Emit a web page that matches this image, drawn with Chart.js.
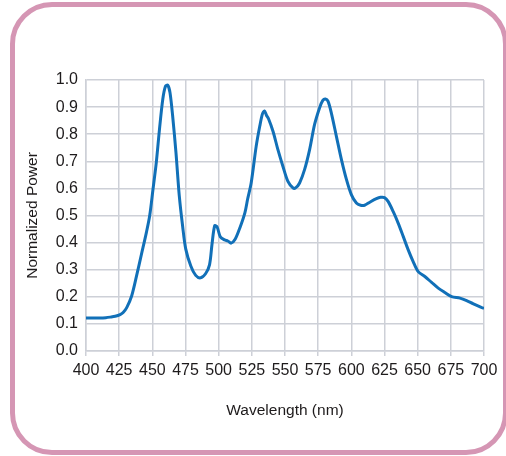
<!DOCTYPE html>
<html>
<head>
<meta charset="utf-8">
<script src="https://cdn.jsdelivr.net/npm/chart.js@4.4.1/dist/chart.umd.min.js"></script>
<style>
  html, body { margin: 0; padding: 0; background: #ffffff; width: 506px; height: 456px; overflow: hidden; }
  #frame { position: absolute; left: 10px; top: 2px; width: 498px; height: 453px; box-sizing: border-box;
           border: 5px solid #d596b4; border-radius: 42px; }
  #c { position: absolute; left: 0; top: 0; }
</style>
</head>
<body>
<div id="frame"></div>
<canvas id="c" width="506" height="456"></canvas>
<script>
const wavelengths = [400,405,410,415,418.3,422,425.7,428,430.7,434.4,438.1,441.8,445.5,448,450.5,453,455.4,457.9,459.9,461.6,463.3,465.3,467.8,470.3,472.8,475.2,479,482.7,486.4,490.1,493.1,495,497,498.8,501.2,504.5,506.9,509.4,512.4,516.1,519.8,521.8,524.5,528.3,531,533,534.5,536,537.5,541,544.6,548.4,552.2,556,558,561,564.8,568.6,572.3,576.1,578.5,580.5,582.4,584.9,588.7,592.5,596.3,600,603.8,607,610,613.9,618.9,622,625,627.7,631.5,635.3,639.1,642.8,646.6,650.4,655.4,660.5,665.5,670.5,675.6,681.9,686.9,692,700];
const power = [0.122,0.122,0.122,0.123,0.125,0.128,0.134,0.142,0.16,0.203,0.277,0.357,0.437,0.499,0.597,0.696,0.819,0.93,0.977,0.981,0.954,0.868,0.733,0.573,0.462,0.376,0.314,0.279,0.27,0.285,0.318,0.395,0.462,0.458,0.422,0.41,0.406,0.398,0.412,0.456,0.511,0.56,0.62,0.756,0.83,0.875,0.886,0.87,0.858,0.81,0.744,0.682,0.626,0.602,0.602,0.62,0.67,0.744,0.836,0.898,0.925,0.93,0.922,0.879,0.793,0.707,0.633,0.577,0.546,0.538,0.538,0.549,0.562,0.567,0.566,0.552,0.515,0.472,0.423,0.374,0.33,0.293,0.275,0.253,0.232,0.216,0.201,0.195,0.186,0.174,0.157];
const xTitle = "Wavelength (nm)";
const yTitle = "Normalized Power";
const xMin = 400, xMax = 700, xStep = 25;
const yMin = 0, yMax = 1, yStep = 0.1;

const points = wavelengths.map((w, i) => ({ x: w, y: power[i] }));
const gridColor = '#cdd0d7';
const textColor = '#1e1b1c';
const tickFont = { family: '"Liberation Sans", Arial, Helvetica, sans-serif', size: 16 };
const titleFont = { family: '"Liberation Sans Narrow", "Liberation Sans", Arial, sans-serif', size: 15.5 };

new Chart(document.getElementById('c'), {
  type: 'line',
  data: { datasets: [{ data: points, borderColor: '#1170b8', borderWidth: 3, pointRadius: 0, tension: 0.3, fill: false }] },
  options: {
    responsive: false, animation: false, devicePixelRatio: 1,
    layout: { padding: { left: 0, right: 22, top: 80, bottom: 0 } },
    plugins: { legend: { display: false }, tooltip: { enabled: false } },
    scales: {
      x: {
        type: 'linear', min: xMin, max: xMax,
        afterFit: s => { s.height = 105; },
        ticks: { stepSize: xStep, color: textColor, font: tickFont, padding: 5, maxRotation: 0, autoSkip: false },
        grid: { color: gridColor, lineWidth: 1.5, tickLength: 5, drawTicks: true },
        border: { color: gridColor, width: 1.5 },
        title: { display: true, text: xTitle, color: textColor, font: titleFont, padding: { top: 0, bottom: 36 } }
      },
      y: {
        type: 'linear', min: yMin, max: yMax,
        afterFit: s => { s.width = 86; },
        ticks: { stepSize: yStep, color: textColor, font: tickFont, padding: 8, callback: v => v.toFixed(1) },
        grid: { color: gridColor, lineWidth: 1.5, drawTicks: false },
        border: { color: gridColor, width: 1.5 },
        title: { display: true, text: yTitle, color: textColor, font: titleFont, padding: { top: 23.5, bottom: 0 } }
      }
    }
  }
});
</script>
</body>
</html>
